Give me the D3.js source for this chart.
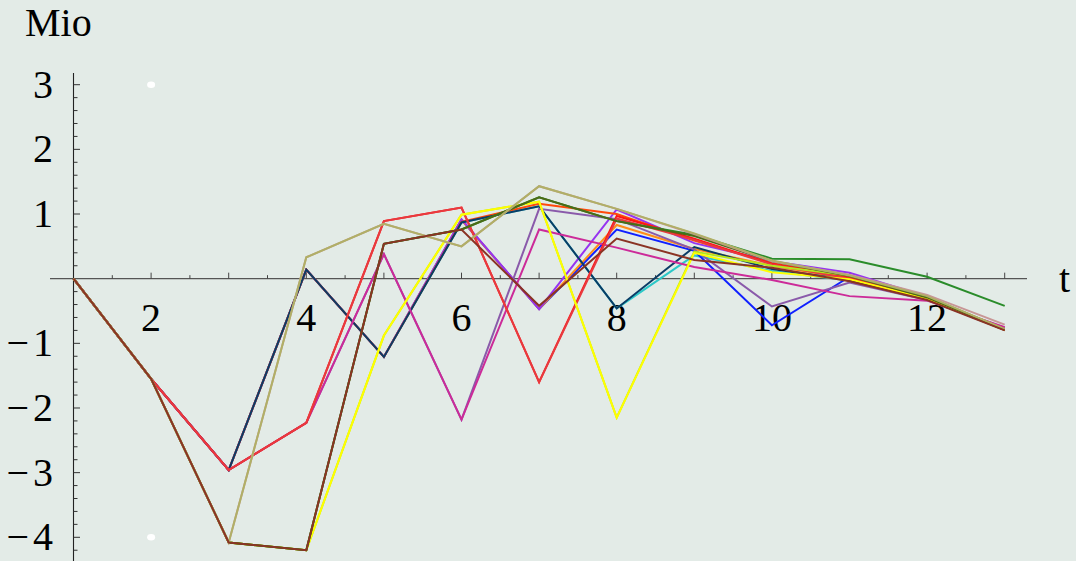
<!DOCTYPE html>
<html>
<head>
<meta charset="utf-8">
<script src="https://cdn.jsdelivr.net/npm/d3@7"></script>
<style>
html,body{margin:0;padding:0;background:#e3ebe7;}
svg{display:block;}
</style>
</head>
<body>
<svg id="chart" width="1076" height="561"></svg>
<script>
// ---- data ----
const tValues = [1,2,3,4,5,6,7,8,9,10,11,12,13];
const xTickLabels = [2,4,6,8,10,12];
const yTickLabels = [-4,-3,-2,-1,1,2,3];
const yAxisTitle = "Mio";
const xAxisTitle = "t";

const cyan        = [0,-1.55,-2.96,0.14,-1.21,0.87,1.12,-0.46,0.36,0.12,-0.03,-0.31,-0.79];
const blue        = [0,-1.55,-2.96,0.14,-1.21,0.91,-0.47,0.76,0.43,-0.72,0.03,-0.32,-0.79];
const orange      = [0,-1.55,-2.96,0.14,-1.21,0.91,-0.47,0.83,0.46,0.20,0.00,-0.30,-0.79];
const violet      = [0,-1.55,-2.96,0.14,-1.21,0.92,-0.47,1.07,0.55,0.27,0.09,-0.28,-0.78];
const orangered   = [0,-1.55,-2.96,0.14,-1.21,0.88,1.16,1.00,0.59,0.24,0.02,-0.30,-0.79];
const navy        = [0,-1.55,-2.96,0.14,-1.21,0.87,1.12,-0.46,0.49,0.15,-0.02,-0.31,-0.79];
const lavender    = [0,-1.55,-2.96,-2.23,0.38,-2.18,1.08,0.92,0.45,-0.43,-0.06,-0.33,-0.76];
const magenta     = [0,-1.55,-2.96,-2.23,0.38,-2.18,0.76,0.48,0.18,-0.02,-0.27,-0.34,-0.75];
const brightred   = [0,-1.55,-2.96,-2.23,0.89,1.10,-1.60,0.97,0.62,0.23,0.01,-0.30,-0.79];
const red         = [0,-1.55,-2.96,-2.23,0.89,1.10,-1.60,0.93,0.60,0.22,0.00,-0.30,-0.79];
const yellowgreen = [0,-1.55,-4.08,-4.20,-0.88,0.99,1.19,-2.15,0.42,0.20,0.05,-0.28,-0.78];
const yellow      = [0,-1.55,-4.08,-4.20,-0.88,0.99,1.19,-2.15,0.40,0.10,-0.01,-0.31,-0.79];
const green       = [0,-1.55,-4.08,-4.20,0.54,0.76,1.26,0.89,0.68,0.31,0.30,0.03,-0.42];
const darkolive   = [0,-1.55,-4.08,-4.20,0.54,0.76,1.26,0.89,0.66,0.27,0.04,-0.29,-0.79];
const rosybrown   = [0,-1.55,-4.08,0.33,0.85,0.50,1.43,1.08,0.69,0.27,0.06,-0.25,-0.71];
const khaki       = [0,-1.55,-4.08,0.33,0.85,0.50,1.43,1.08,0.70,0.28,0.05,-0.27,-0.78];
const brown       = [0,-1.55,-4.08,-4.20,0.54,0.76,-0.42,0.62,0.29,0.17,-0.04,-0.33,-0.80];

const seriesList = [
  {name:"cyan", values:cyan, color:"#2cc8c8"},
  {name:"blue", values:blue, color:"#1020ff"},
  {name:"orange", values:orange, color:"#ff8c1a"},
  {name:"violet", values:violet, color:"#9633f0"},
  {name:"orangered", values:orangered, color:"#ff4a0a"},
  {name:"navy", values:navy, color:"#0a3c66"},
  {name:"lavender", values:lavender, color:"#8a5aaa"},
  {name:"magenta", values:magenta, color:"#cc2b99"},
  {name:"brightred", values:brightred, color:"#ff1414"},
  {name:"red", values:red, color:"#e83a3f"},
  {name:"yellowgreen", values:yellowgreen, color:"#b4e61e"},
  {name:"yellow", values:yellow, color:"#ffff00"},
  {name:"green", values:green, color:"#2a8c2a"},
  {name:"darkolive", values:darkolive, color:"#4b6b16"},
  {name:"rosybrown", values:rosybrown, color:"#c89696"},
  {name:"khaki", values:khaki, color:"#b0b066"},
  {name:"brown", values:brown, color:"#8a3324"}
];

const FONT = "'Liberation Serif', 'Times New Roman', Times, 'DejaVu Serif', serif";

// ---- scales ----
const svg = d3.select("#chart");
const x = d3.scaleLinear().domain([1,13]).range([73.5,1004.7]);
const y = d3.scaleLinear().domain([-4,3]).range([537.3,84.7]);

// ---- axes ----
const axisG = svg.append("g");
axisG.append("line")
  .attr("x1",50).attr("x2",1027)
  .attr("y1",y(0)).attr("y2",y(0))
  .attr("stroke","#555").attr("stroke-width",1.1);
const xTicks = d3.range(1.5,13.01,0.5);
axisG.selectAll(".xt").data(xTicks).enter().append("line")
  .attr("x1",d=>x(d)).attr("x2",d=>x(d))
  .attr("y1",y(0)).attr("y2",d=> y(0) - (Number.isInteger(d)?6:3.5))
  .attr("stroke","#444").attr("stroke-width",1);
axisG.append("line")
  .attr("x1",x(1)).attr("x2",x(1))
  .attr("y1",73).attr("y2",561)
  .attr("stroke","#222").attr("stroke-width",1.1);
const yTicks = d3.range(-21,16).map(i=>i*0.2).filter(v=>Math.abs(v)>1e-9);
axisG.selectAll(".yt").data(yTicks).enter().append("line")
  .attr("x1",x(1)).attr("x2",d=> x(1) + (Math.abs(d-Math.round(d))<1e-6?6.5:4))
  .attr("y1",d=>y(d)).attr("y2",d=>y(d))
  .attr("stroke","#333").attr("stroke-width",1);

// tick labels
svg.selectAll(".xl").data(xTickLabels).enter().append("text")
  .attr("x",d=>x(d)).attr("y",y(0)+52)
  .attr("text-anchor","middle").attr("font-size",40)
  .attr("font-family",FONT).attr("fill","#000")
  .text(d=>d);
const yl = svg.selectAll(".yl").data(yTickLabels).enter().append("text")
  .attr("x",53).attr("y",d=>y(d)+13)
  .attr("text-anchor","end").attr("font-size",40)
  .attr("font-family",FONT).attr("fill","#000");
yl.each(function(d){
  const s = d3.select(this);
  if(d<0){
    s.append("tspan").text("\u2212");
    s.append("tspan").attr("dx",4).text(Math.abs(d));
  } else {
    s.text(d);
  }
});

// titles
svg.append("text").attr("x",25).attr("y",36).attr("font-size",40)
  .attr("font-family",FONT).attr("fill","#000").text(yAxisTitle);
svg.append("text").attr("x",1059).attr("y",292).attr("font-size",40)
  .attr("font-family",FONT).attr("fill","#000").text(xAxisTitle);

// white markers
svg.selectAll(".dot").data([3,-4]).enter().append("ellipse")
  .attr("cx",x(2)).attr("cy",d=>y(d)).attr("rx",4).attr("ry",3.3)
  .attr("fill","#ffffff");

// ---- lines ----
const line = d3.line().x((d,i)=>x(tValues[i])).y(d=>y(d));
svg.append("g").selectAll("path").data(seriesList).enter().append("path")
  .attr("d",d=>line(d.values))
  .attr("fill","none")
  .attr("stroke",d=>d.color)
  .attr("stroke-width",2)
  .attr("stroke-linejoin","miter");
</script>
</body>
</html>
